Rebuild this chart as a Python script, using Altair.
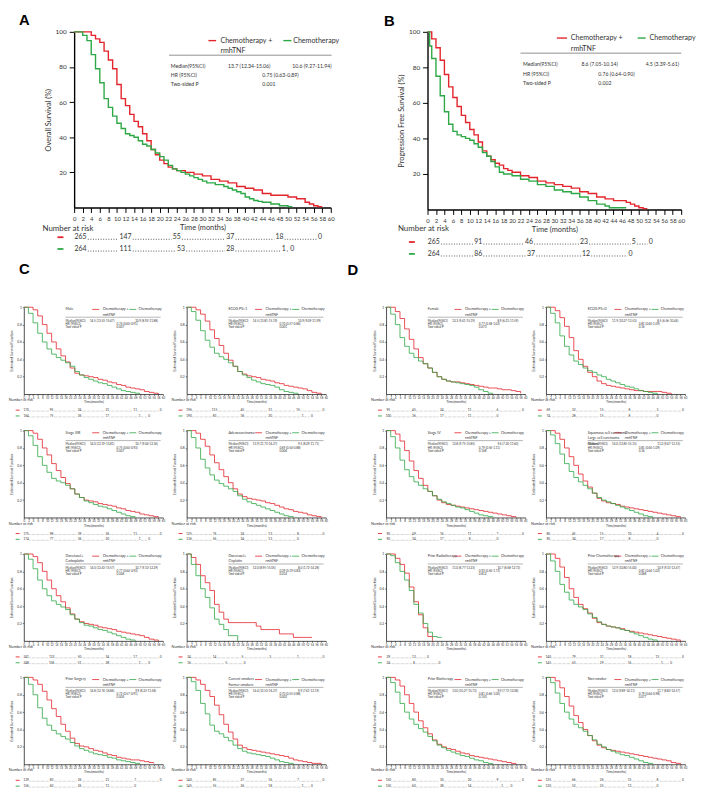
import altair as alt
import pandas as pd

RED = "#e3242b"
GREEN = "#2ea846"
INK = "#333333"
FONT = "Lato"

# ---------------- Panel A : overall survival (%) ----------------
A_RED = [(0,100),(3,100),(4,98),(5,96),(6,94),(7,89),(8,84),(9,79),(10,70),(11,62),(12,58),(13,53),(14,49),(15,46),(16,42),(17,38),(18,33),(19,30),(20,27),(21,25),(22,23),(23,22),(24,21),(26,20),(28,19),(30,18),(32,16),(34,15),(36,14),(38,12),(40,11),(42,10),(44,8),(46,7),(48,7),(50,6),(52,5),(54,3),(55,2),(56,1),(57,0.5),(58,0.5)]
A_GRN = [(0,100),(1,100),(2,98),(3,95),(4,87),(5,79),(6,71),(7,62),(8,57),(9,52),(10,48),(11,45),(12,42),(13,41),(14,40),(15,38),(16,36),(17,35),(18,33),(19,31),(20,29),(21,27),(22,24),(23,22),(24,21),(25,20),(26,19),(27,18),(28,17),(29,16),(30,15),(31,14),(33,13),(35,12),(36,11),(37,10),(38,9),(39,8),(40,6),(41,5),(42,4),(43,3.5),(44,3),(46,2),(48,1),(50,0.5),(51,0.5)]
A_RISK_RED = ["265","147","55","37","18","0"]
A_RISK_GRN = ["264","111","53","28","1","0"]
A_RISK_RED_X = [1.5,12,24,36.5,48,57.5]
A_RISK_GRN_X = [1.5,12,25,36.5,49,51]
A_TABLE = ["13.7 (12.34-15.06)", "10.6 (9.27-11.94)", "0.75 (0.63-0.89)", "0.001"]

# ---------------- Panel B : progression free survival (%) ----------------
B_RED = [(0,100),(1,96),(2,91),(3,84),(4,76),(5,69),(6,63),(7,58),(8,53),(9,49),(10,45),(11,42),(12,38),(13,33),(14,30),(15,28),(16,26),(17,25),(18,23),(19,22),(20,21),(22,19),(24,18),(26,16),(28,15),(30,14),(32,13),(34,12),(36,10),(38,9),(40,7),(42,6),(44,5),(46,5),(47,4),(48,3),(49,2),(50,1),(51,0.5),(52,0.5)]
B_GRN = [(0,100),(0.5,92),(1,85),(2,75),(3,64),(4,55),(5,48),(6,44),(7,42),(8,41),(9,40),(10,39),(11,37),(12,35),(13,32),(14,30),(15,27),(16,24),(17,21),(18,20),(20,19),(22,17),(24,16),(26,14),(28,13),(30,11),(32,10),(34,9),(36,7),(38,5),(40,3),(42,2),(43,1),(47,1)]
B_RISK_RED = ["265","91","46","23","5","0"]
B_RISK_GRN = ["264","86","37","12","0"]
B_RISK_RED_X = [1.5,12,24,37,48.8,52.8]
B_RISK_GRN_X = [1.5,12,24.5,37.5,48]
B_TABLE = ["8.6 (7.05-10.14)", "4.5 (3.39-5.61)", "0.76 (0.64-0.90)", "0.002"]

# ---------------- Subgroup panels (survival read every 2 months) ----------------
SMALL_T = list(range(0, 61, 2))

C1_RED = [1,1,.97,.9,.8,.7,.6,.52,.44,.37,.3,.24,.22,.21,.2,.19,.17,.16,.14,.13,.11,.1,.08,.07,.06,.05,.03,.02,.01,0]
C1_GRN = [1,.93,.82,.7,.6,.52,.46,.42,.39,.36,.32,.26,.22,.19,.17,.15,.13,.12,.1,.08,.06,.04,.03,.02,.01,0]
C2_RED = [1,1,.97,.92,.84,.74,.64,.56,.47,.39,.32,.26,.23,.21,.2,.19,.17,.16,.15,.13,.12,.1,.09,.08,.07,.06,.04,.02,.01,0]
C2_GRN = [1,.95,.85,.73,.62,.54,.47,.43,.4,.36,.32,.26,.22,.19,.16,.14,.12,.11,.1,.08,.05,.03,.02,.01,0]
C3_RED = [1,1,.97,.9,.8,.72,.62,.54,.46,.39,.33,.27,.23,.2,.19,.18,.16,.15,.14,.13,.11,.1,.08,.07,.06,.04,.03,.02,.01,0]
C3_GRN = [1,.94,.83,.7,.6,.52,.45,.42,.4,.37,.33,.27,.23,.19,.17,.15,.13,.12,.1,.08,.06,.04,.02,.01,0]
C4_RED = [1,1,.97,.9,.82,.72,.63,.55,.47,.4,.33,.27,.24,.22,.21,.2,.19,.17,.16,.14,.12,.1,.09,.07,.06,.05,.03,.02,.01,0]
C4_GRN = [1,.92,.8,.67,.57,.49,.43,.39,.36,.33,.3,.25,.21,.18,.16,.14,.12,.1,.08,.06,.04,.02,.01,0]
C5_RED = [1,1,.97,.9,.8,.7,.6,.52,.45,.38,.31,.25,.22,.2,.19,.18,.16,.15,.14,.13,.11,.1,.09,.08,.07,.06,.04,.02,.01,0]
C5_GRN = [1,.94,.83,.7,.6,.52,.46,.42,.39,.36,.3,.25,.21,.18,.17,.15,.13,.12,.1,.08,.06,.04,.02,.01,0]
C6_RED = [1,.96,.88,.75,.67,.58,.42,.33,.25,.21,.21,.21,.21,.21,.21,.17,.13,.13,.13,.13,.08,.08,.08,.04,.04,.04,.04,.04]
C6_GRN = [1,.88,.75,.6,.5,.38,.25,.19,.13,.06,.06,0]
C7_RED = [1,1,.97,.92,.84,.74,.64,.55,.46,.38,.3,.24,.21,.2,.18,.16,.15,.13,.11,.1,.08,.07,.06,.05,.05,.04,.03,.02,.01]
C7_GRN = [1,.92,.8,.65,.53,.45,.39,.35,.32,.29,.25,.21,.18,.16,.14,.12,.11,.1,.08,.07,.05,.04,.03,.02,.01,0]
C8_RED = [1,1,.97,.92,.85,.78,.68,.57,.46,.37,.29,.22,.19,.17,.16,.15,.14,.13,.12,.11,.1,.09,.07,.05,.04,.03,.02,.01,.01,0]
C8_GRN = [1,.95,.85,.7,.58,.45,.38,.35,.31,.27,.22,.18,.15,.13,.12,.11,.1,.09,.07,.05,.03,.02,.01,0]

D1_RED = [1,1,.95,.87,.75,.63,.52,.42,.35,.3,.25,.2,.17,.15,.14,.14,.13,.12,.11,.1,.09,.08,.07,.07,.06,.05,.05,.04,.03,.01]
D1_GRN = [1,.92,.8,.65,.55,.47,.42,.38,.35,.3,.25,.2,.17,.15,.14,.13,.12,.11,.1,.08,.05,.03,.01,0]
D2_RED = [1,1,.96,.88,.78,.65,.5,.4,.32,.25,.2,.15,.12,.1,.09,.08,.07,.06,.05,.04,.04,.03,.03,.03,.03,.02,.01,0]
D2_GRN = [1,.93,.82,.67,.55,.45,.38,.34,.3,.27,.25,.22,.2,.17,.15,.13,.11,.09,.08,.06,.04,.03,.02,.01,0]
D3_RED = [1,1,.96,.88,.77,.65,.54,.45,.37,.3,.25,.2,.17,.15,.14,.13,.12,.11,.1,.09,.08,.07,.06,.05,.04,.03,.02,.01,0]
D3_GRN = [1,.93,.8,.66,.55,.47,.41,.37,.33,.3,.25,.21,.18,.16,.14,.12,.11,.09,.07,.05,.03,.02,.01,0]
D4_RED = [1,1,.97,.9,.8,.7,.6,.5,.42,.35,.28,.22,.19,.17,.16,.15,.13,.12,.11,.1,.09,.08,.07,.06,.05,.04,.03,.02,.01,0]
D4_GRN = [1,.95,.85,.73,.62,.53,.46,.41,.37,.33,.28,.23,.2,.18,.16,.14,.12,.1,.08,.06,.04,.02,.01,0]
D5_RED = [1,1,.95,.88,.78,.62,.45,.3,.15,.05,0]
D5_GRN = [1,.98,.9,.8,.7,.58,.42,.32,.2,.1,.05,.04,.04]
D6_RED = [1,1,.95,.85,.73,.6,.5,.42,.37,.32,.26,.21,.19,.17,.16,.15,.14,.12,.11,.1,.09,.08,.07,.06,.05,.04,.03,.02,.01,0]
D6_GRN = [1,.92,.8,.65,.56,.47,.42,.39,.36,.31,.27,.22,.19,.17,.16,.15,.13,.12,.1,.08,.06,.04,.02,.01,0]
D7_RED = [1,1,.97,.9,.8,.7,.6,.5,.42,.35,.28,.23,.2,.18,.17,.15,.13,.12,.1,.09,.08,.07,.06,.05,.04,.03,.02,.01,0]
D7_GRN = [1,.94,.83,.7,.6,.52,.46,.41,.37,.32,.27,.22,.19,.16,.14,.12,.1,.09,.07,.05,.04,.02,.01,0]
D8_RED = [1,1,.96,.88,.78,.67,.56,.48,.4,.33,.27,.22,.19,.17,.16,.15,.14,.13,.12,.11,.1,.09,.08,.07,.06,.05,.04,.02,.01,0]
D8_GRN = [1,.94,.82,.7,.6,.52,.46,.42,.38,.33,.28,.23,.2,.17,.15,.13,.11,.1,.08,.06,.04,.02,.01,0]

SUB_NAMES = {
    "C1": "Male", "C2": "ECOG PS=1", "C3": "Stage IIIB", "C4": "Adenocarcinoma",
    "C5": "Docetaxel+\nCarboplatin", "C6": "Docetaxel+\nCisplatin", "C7": "Prior Surgery",
    "C8": "Current smokers\nFormer smokers",
    "D1": "Female", "D2": "ECOG PS=0", "D3": "Stage IV",
    "D4": "Squamous cell carcinoma\nLarge cell carcinoma\nOthers",
    "D5": "Prior Radiotherapy", "D6": "Prior Chemotherapy", "D7": "Prior Biotherapy", "D8": "Non smoker",
}
SUB_TABLES = {
    "C1": ["14.5 (13.53-15.47)", "10.9 (8.92-11.88)", "0.74 (0.60-0.91)", "0.007"],
    "C2": ["14.5 (13.81-15.19)", "10.9 (9.09-11.99)", "0.70 (0.57-0.86)", "0.001"],
    "C3": ["14.0 (12.19-15.81)", "10.7 (9.04-12.36)", "0.75 (0.60-0.93)", "0.007"],
    "C4": ["13.9 (11.73-16.27)", "9.5 (8.29-11.71)", "0.69 (0.54-0.88)", "0.004"],
    "C5": ["14.0 (12.43-15.57)", "10.7 (9.10-12.29)", "0.77 (0.64-0.93)", "0.006"],
    "C6": ["12.0 (8.95-15.05)", "8.0 (1.72-14.28)", "0.39 (0.19-0.83)", "0.014"],
    "C7": ["14.8 (12.74-16.86)", "9.9 (8.22-11.58)", "0.72 (0.57-0.91)", "0.005"],
    "C8": ["14.4 (12.53-16.27)", "9.9 (7.61-12.19)", "0.70 (0.55-0.88)", "0.002"],
    "D1": ["12.3 (9.41-15.19)", "8.9 (6.21-11.59)", "0.77 (0.58-1.02)", "0.073"],
    "D2": ["11.9 (10.27-13.53)", "8.5 (6.56-10.44)", "0.81 (0.60-1.09)", "0.16"],
    "D3": ["12.8 (9.75-15.85)", "9.4 (7.20-11.60)", "0.79 (0.56-1.11)", "0.168"],
    "D4": ["14.0 (12.85-15.15)", "11.0 (9.47-12.53)", "0.81 (0.60-1.09)", "0.16"],
    "D5": ["11.0 (8.77-13.23)", "10.7 (8.68-12.72)", "0.93 (0.50-1.72)", "0.812"],
    "D6": ["12.9 (10.80-15.00)", "10.9 (9.33-12.47)", "0.81 (0.64-1.02)", "0.068"],
    "D7": ["13.0 (10.27-15.73)", "9.9 (7.72-12.08)", "0.81 (0.66-1.00)", "0.150"],
    "D8": ["12.0 (9.89-14.11)", "11.7 (8.83-14.57)", "0.79 (0.64-0.98)", "0.077"],
}
SUB_RISK_RED = {
    "C1": ["170","95","24","21","11","0"], "C2": ["196","115","45","31","15","0"],
    "C3": ["175","98","39","26","11","0"], "C4": ["125","76","24","13","8","0"],
    "C5": ["241","133","50","34","17","0"], "C6": ["24","14","5","3","1","0"],
    "C7": ["139","83","26","21","7","0"], "C8": ["140","85","27","16","7","0"],
    "D1": ["95","45","24","11","6","0"], "D2": ["69","32","15","8","3","0"],
    "D3": ["90","49","16","11","7","0"], "D4": ["80","45","15","10","4","0"],
    "D5": ["29","12","0"], "D6": ["140","79","31","18","13","0"],
    "D7": ["150","80","30","20","9","0"], "D8": ["125","66","26","15","8","0"],
}
SUB_RISK_GRN = {
    "C1": ["164","75","26","17","1","0"], "C2": ["190","83","36","20","1","0"],
    "C3": ["174","77","36","20","1","0"], "C4": ["136","56","24","13","0"],
    "C5": ["248","106","51","28","1","0"], "C6": ["16","5","0"],
    "C7": ["156","60","26","11","0"], "C8": ["145","55","26","18","1","0"],
    "D1": ["100","36","17","11","0"], "D2": ["74","28","15","8","0"],
    "D3": ["90","34","17","8","0"], "D4": ["90","34","17","8","0"],
    "D5": ["24","8","0"], "D6": ["145","63","29","16","1","0"],
    "D7": ["150","60","28","14","1","0"], "D8": ["120","52","25","13","0"],
}
RISK_X = {6: [1,12,24,36,48,59], 5: [1,12,24,36,48], 3: [1,12,20]}
RISK_X_GRN6 = [1,12,24,36,50,54]

# ---------------- geometry / styles ----------------
GEO_A = dict(ymax=100, lw=1.4, leg_red=(31.4,33.2,95), leg_txt=(34.2,95), leg_txt2=(34.2,89.3),
             leg_grn=(48.9,50.8,95), leg_gtxt=(51.2,95), rule=(22.2,60.2,86.7), med=(22.6,80.5),
             med_x=(36,51), hr_y=75.3, p_y=70.2, hr_x=44, nar=(-7.4,-12.4), rows=(-16.9,-23.6),
             mark=(-3.9,-2.5), fs_leg=7.2, fs_tab=5.2, fs_risk=7, fs_nar=8, name=None)
GEO_B = dict(GEO_A, leg_red=(30.6,33,96.5), leg_txt=(33.9,96.5), leg_txt2=(33.9,90.5),
             leg_grn=(49.7,51.6,96.5), leg_gtxt=(52.5,96.5), rule=(22,60,88), med=(22.6,82),
             med_x=(36.4,51.6), hr_y=76, p_y=71, hr_x=40.4, nar=(-7,-11.1), rows=(-18.3,-25),
             mark=(-4.4,-3))
GEO_S = dict(ymax=1, lw=0.8, leg_red=(29.5,32.5,.975), leg_txt=(34,.975), leg_txt2=(34,.915),
             leg_grn=(45.5,48.5,.975), leg_gtxt=(49.5,.975), rule=(18,59,.885), med=(18,.84),
             med_x=(28.5,48), hr_y=.805, p_y=.77, hr_x=40, nar=(-6.5,-.07), rows=(-.185,-.252),
             mark=(-3.5,-1.8), fs_leg=3.6, fs_tab=3.0, fs_risk=3.2, fs_nar=3.8, name=(18, 1.0))


def panel(red_pts, grn_pts, risk_red, risk_grn, rx_red, rx_grn, table, w, h, G, big,
          ytitle, name=None, letter=None):
    ymax = G["ymax"]
    xs = alt.Scale(domain=[0, 60], nice=False, zero=False)
    ys = alt.Scale(domain=[0, ymax], nice=False, zero=False)
    if big:
        xaxis = alt.Axis(values=list(range(0, 61, 2)), title="Time (months)", labelFontSize=6,
                         titleFontSize=7.5, tickSize=5, labelPadding=3, titlePadding=2,
                         domainWidth=1.4, tickWidth=1, labelOverlap=False, labelFlush=False)
        yaxis = alt.Axis(values=[20, 40, 60, 80, 100], title=ytitle, labelFontSize=6.5,
                         titleFontSize=7.5, tickSize=5, labelPadding=3, titlePadding=3,
                         domainWidth=1.4, tickWidth=1)
    else:
        xaxis = alt.Axis(values=list(range(0, 61, 2)), title="Time(months)", labelFontSize=2.8,
                         titleFontSize=3.4, tickSize=1.5, labelPadding=1, titlePadding=0.5,
                         domainWidth=0.7, tickWidth=0.5, labelOverlap=False, labelFlush=False)
        yaxis = alt.Axis(values=[0.2, 0.4, 0.6, 0.8, 1], format="~g", title=ytitle,
                         labelFontSize=3.3, titleFontSize=3.4, tickSize=1.5, labelPadding=1,
                         titlePadding=3, domainWidth=0.7, tickWidth=0.5)
    X = lambda f: alt.X(f, type="quantitative", scale=xs, axis=xaxis)
    Y = lambda f: alt.Y(f, type="quantitative", scale=ys, axis=yaxis)
    col = alt.Color("g:N", scale=alt.Scale(domain=["r", "g"], range=[RED, GREEN]), legend=None)

    rows = [{"t": t, "s": s, "g": "r"} for t, s in red_pts] + \
           [{"t": t, "s": s, "g": "g"} for t, s in grn_pts]
    lines = alt.Chart(pd.DataFrame(rows)).mark_line(
        interpolate="step-after", strokeWidth=G["lw"]).encode(x=X("t"), y=Y("s"), color=col)

    sw = pd.DataFrame([
        {"x": G["leg_red"][0], "x2": G["leg_red"][1], "y": G["leg_red"][2], "g": "r"},
        {"x": G["leg_grn"][0], "x2": G["leg_grn"][1], "y": G["leg_grn"][2], "g": "g"},
    ])
    swatch = alt.Chart(sw).mark_rule(strokeWidth=G["lw"]).encode(
        x=X("x"), x2="x2", y=Y("y"), color=col)

    tx = [
        (G["leg_txt"][0], G["leg_txt"][1], "Chemotherapy +", G["fs_leg"]),
        (G["leg_txt2"][0], G["leg_txt2"][1], "rmhTNF", G["fs_leg"]),
        (G["leg_gtxt"][0], G["leg_gtxt"][1], "Chemotherapy", G["fs_leg"]),
        (G["med"][0], G["med"][1], "Median(95%CI)", G["fs_tab"]),
        (G["med_x"][0], G["med"][1], table[0], G["fs_tab"]),
        (G["med_x"][1], G["med"][1], table[1], G["fs_tab"]),
        (G["med"][0], G["hr_y"], "HR (95%CI)", G["fs_tab"]),
        (G["hr_x"], G["hr_y"], table[2], G["fs_tab"]),
        (G["med"][0], G["p_y"], "Two-sided P", G["fs_tab"]),
        (G["hr_x"], G["p_y"], table[3], G["fs_tab"]),
        (G["nar"][0], G["nar"][1], "Number at risk", G["fs_nar"]),
    ]
    texts = alt.Chart(pd.DataFrame(tx, columns=["x", "y", "text", "fs"])).mark_text(
        align="left", baseline="middle", font=FONT, color=INK).encode(
        x=X("x"), y=Y("y"), text="text:N", size=alt.Size("fs:Q", scale=None))

    div = alt.Chart(pd.DataFrame([{"x": G["rule"][0], "x2": G["rule"][1], "y": G["rule"][2]}])
                    ).mark_rule(color="#444444", strokeWidth=0.6 if big else 0.4).encode(
        x=X("x"), x2="x2", y=Y("y"))

    # number-at-risk table
    pxm = w / 60.0
    rk, ld = [], []
    for labels, xsx, yy in ((risk_red, rx_red, G["rows"][0]), (risk_grn, rx_grn, G["rows"][1])):
        for lab, xx in zip(labels, xsx):
            rk.append({"x": xx, "y": yy, "text": lab})
        for i in range(len(labels) - 1):
            a = xsx[i] + (len(labels[i]) * G["fs_risk"] * 0.3 + G["fs_risk"] * 0.15) / pxm
            b = xsx[i + 1] - (len(labels[i + 1]) * G["fs_risk"] * 0.3 + G["fs_risk"] * 0.15) / pxm
            ld.append({"x": a, "x2": b, "y": yy - (G["fs_risk"] * 0.3) / (h / ymax)})
    risk = alt.Chart(pd.DataFrame(rk)).mark_text(
        align="center", baseline="middle", font=FONT, color=INK, fontSize=G["fs_risk"]).encode(
        x=X("x"), y=Y("y"), text="text:N")
    leaders = alt.Chart(pd.DataFrame(ld)).mark_rule(
        color=INK, strokeWidth=0.8 if big else 0.4,
        strokeDash=[1, 1.6] if big else [0.5, 0.8]).encode(x=X("x"), x2="x2", y=Y("y"))
    mk = pd.DataFrame([
        {"x": G["mark"][0], "x2": G["mark"][1], "y": G["rows"][0], "g": "r"},
        {"x": G["mark"][0], "x2": G["mark"][1], "y": G["rows"][1], "g": "g"},
    ])
    markers = alt.Chart(mk).mark_rule(strokeWidth=1.8 if big else 0.9).encode(
        x=X("x"), x2="x2", y=Y("y"), color=col)

    layers = [lines, swatch, div, texts, risk, leaders, markers]
    if name is not None:
        nm = alt.Chart(pd.DataFrame([{"x": G["name"][0], "y": G["name"][1], "text": name}])
                       ).mark_text(align="left", baseline="top", font=FONT, color=INK,
                                   fontSize=G["fs_leg"], lineBreak="\n").encode(
            x=X("x"), y=Y("y"), text="text:N")
        layers.append(nm)
    if letter is not None:
        lt = alt.Chart(pd.DataFrame([{"x": letter[1], "y": letter[2], "text": letter[0]}])
                       ).mark_text(align="left", baseline="alphabetic", font="Liberation Sans",
                                   fontSize=15, fontWeight="bold", color="black").encode(
            x=X("x"), y=Y("y"), text="text:N")
        layers.append(lt)
    return alt.layer(*layers).properties(width=w, height=h)


def spacer(w, h):
    # invisible vertical hairline at the cell's left edge: fixes layout extents
    return alt.Chart(pd.DataFrame({"v": [0]})).mark_rule(opacity=0, strokeWidth=0).encode(
        x=alt.value(0), y=alt.value(0), y2=alt.value(h)).properties(width=w, height=h)


# panel letters: (text, months, survival) placed just outside the plot area
chart_a = panel(A_RED, A_GRN, A_RISK_RED, A_RISK_GRN, A_RISK_RED_X, A_RISK_GRN_X, A_TABLE,
                260, 178, GEO_A, True, "Overall  Survival (%)", letter=("A", -12.9, 103.6))
chart_b = panel(B_RED, B_GRN, B_RISK_RED, B_RISK_GRN, B_RISK_RED_X, B_RISK_GRN_X, B_TABLE,
                257, 180, GEO_B, True, "Progression Free Survival (%)", letter=("B", -10.3, 103.5))

SUB_CURVES = {
    "C1": (C1_RED, C1_GRN), "C2": (C2_RED, C2_GRN), "C3": (C3_RED, C3_GRN), "C4": (C4_RED, C4_GRN),
    "C5": (C5_RED, C5_GRN), "C6": (C6_RED, C6_GRN), "C7": (C7_RED, C7_GRN), "C8": (C8_RED, C8_GRN),
    "D1": (D1_RED, D1_GRN), "D2": (D2_RED, D2_GRN), "D3": (D3_RED, D3_GRN), "D4": (D4_RED, D4_GRN),
    "D5": (D5_RED, D5_GRN), "D6": (D6_RED, D6_GRN), "D7": (D7_RED, D7_GRN), "D8": (D8_RED, D8_GRN),
}
SW, SH = 141, 88


def sub(key, letter=None):
    r, g = SUB_CURVES[key]
    rr, rg = SUB_RISK_RED[key], SUB_RISK_GRN[key]
    xr = RISK_X[len(rr)]
    xg = RISK_X_GRN6 if len(rg) == 6 else RISK_X[len(rg)]
    if key == "D5":
        xr, xg = [1, 12, 18], [1, 12, 23]
    if key == "C6":
        xg = [1, 17, 25]
    return panel(list(zip(SMALL_T, r)), list(zip(SMALL_T, g)), rr, rg, xr, xg,
                 SUB_TABLES[key], SW, SH, GEO_S, False, "Estimated Survival Function",
                 name=SUB_NAMES[key], letter=letter)


LEFT = 13
top = alt.hconcat(spacer(LEFT + 51, 233), chart_a, spacer(98, 1), chart_b,
                  spacing=0, bounds="flush")

cells = [spacer(1, 8) for _ in range(8)]
for i in range(4):
    c1 = sub("C%d" % (2 * i + 1), letter=("C", -2.1, 1.386) if i == 0 else None)
    c2 = sub("C%d" % (2 * i + 2))
    d1 = sub("D%d" % (2 * i + 1), letter=("D", -16.6, 1.375) if i == 0 else None)
    d2 = sub("D%d" % (2 * i + 2))
    cells += [spacer(LEFT, 1), c1, spacer(24, 1), c2, spacer(61, 1), d1, spacer(21, 1), d2]
grid = alt.concat(*cells, columns=8, spacing={"row": 37, "column": 0},
                  align="each", bounds="flush")

chart = alt.vconcat(top, grid, spacing=0).properties(
    padding=0, background="white").configure_view(stroke=None).configure_axis(
    grid=False, domainColor="black", tickColor="black", labelColor=INK, titleColor=INK,
    labelFont=FONT, titleFont=FONT, titleFontWeight="normal"
)

chart.save("out.html", embed_options={"renderer": "svg", "actions": False})
